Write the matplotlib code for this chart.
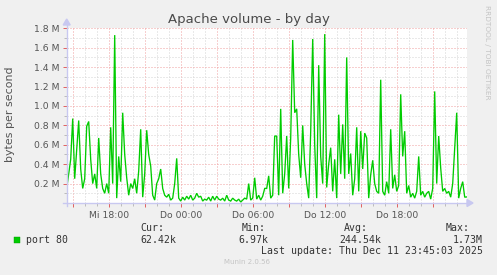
import numpy as np
import matplotlib
matplotlib.use('Agg')
import matplotlib.pyplot as plt
from matplotlib.patches import Rectangle, Polygon
from matplotlib.lines import Line2D

# port 80 traffic in MB/s, one sample every 10 minutes from Wed 14:30
port80 = [
    0.15, 0.30, 0.45, 0.87, 0.25, 0.55, 0.85, 0.35, 0.15, 0.25, 0.79, 0.84, 0.45,
    0.20, 0.30, 0.15, 0.67, 0.30, 0.15, 0.10, 0.20, 0.10, 0.78, 0.20, 1.73,
    0.05, 0.48, 0.22, 0.93, 0.50, 0.26, 0.08, 0.20, 0.15, 0.25, 0.10, 0.33, 0.76,
    0.06, 0.30, 0.75, 0.50, 0.38, 0.08, 0.03, 0.20, 0.25, 0.35, 0.15, 0.08,
    0.06, 0.09, 0.03, 0.05, 0.20, 0.46, 0.05, 0.02, 0.06, 0.03, 0.07, 0.04, 0.08,
    0.03, 0.05, 0.10, 0.06, 0.07, 0.02, 0.04, 0.03, 0.06, 0.02, 0.07, 0.03,
    0.07, 0.04, 0.03, 0.05, 0.02, 0.08, 0.03, 0.02, 0.05, 0.03, 0.02, 0.04, 0.01,
    0.03, 0.05, 0.04, 0.20, 0.03, 0.05, 0.26, 0.04, 0.08, 0.03, 0.07, 0.15,
    0.15, 0.28, 0.05, 0.08, 0.69, 0.69, 0.08, 0.97, 0.10, 0.30, 0.69, 0.15, 0.67,
    1.68, 0.93, 0.97, 0.50, 0.26, 0.80, 0.40, 0.20, 0.05, 0.74, 1.69, 0.60,
    0.05, 1.42, 0.48, 0.20, 1.74, 0.16, 0.40, 0.57, 0.12, 0.45, 0.05, 0.91, 0.30,
    0.81, 0.25, 1.50, 0.30, 0.51, 0.08, 0.25, 0.78, 0.12, 0.74, 0.35, 0.72,
    0.67, 0.05, 0.29, 0.44, 0.20, 0.12, 0.10, 1.27, 0.12, 0.08, 0.22, 0.10, 0.76,
    0.15, 0.29, 0.12, 0.18, 1.12, 0.48, 0.74, 0.10, 0.18, 0.06, 0.10, 0.05,
    0.12, 0.48, 0.08, 0.12, 0.06, 0.10, 0.12, 0.04, 0.15, 1.15, 0.20, 0.69, 0.36,
    0.12, 0.15, 0.10, 0.12, 0.06, 0.20, 0.57, 0.93, 0.05, 0.15, 0.22, 0.06,
    0.0624,
]
tick_hours = [18, 24, 30, 36, 42]
tick_labels = ['Mi 18:00', 'Do 00:00', 'Do 06:00', 'Do 12:00', 'Do 18:00']
legend_stats = {'Cur:': '62.42k', 'Min:': '6.97k', 'Avg:': '244.54k', 'Max:': '1.73M'}

W, H = 497, 275
BG = '#F0F0F0'
GREEN = '#00CC00'
MAJOR = '#F0A0A0'
MINOR = '#D4D4D4'
AXIS = '#C8C8F0'
TXT = '#555555'


def fx(x):
    return x / W


def fy(y):
    return 1 - y / H


fig = plt.figure(figsize=(W / 100, H / 100), dpi=100, facecolor=BG)
left, right, top, bottom = 66.7, 466.7, 28.3, 203.0
ax = fig.add_axes([fx(left), fy(bottom), (right - left) / W, (bottom - top) / H])
ax.set_facecolor('white')

t0 = 14.5
hours = t0 + np.arange(len(port80)) / 6.0
ax.plot(hours, np.array(port80) * 1e6, color=GREEN, lw=0.95, solid_joinstyle='miter')

ax.set_xlim(t0, t0 + 200 / 6.0)
ax.set_ylim(0, 1.8e6)

# munin style dotted grid: red every 3h / 0.2M, grey every hour / 0.1M
dot = (0, (1, 2))
for h in np.arange(15, 48):
    major = (h % 3 == 0)
    ax.axvline(h, color=MAJOR if major else MINOR, lw=0.72, ls=dot, zorder=0)
for v in np.arange(1, 19):
    major = (v % 2 == 0)
    ax.axhline(v * 1e5, color=MAJOR if major else MINOR, lw=0.72, ls=dot, zorder=0)

ax.set_xticks(np.arange(15, 48, 3))
ax.set_xticklabels([tick_labels[tick_hours.index(h)] if h in tick_hours else '' for h in range(15, 48, 3)])
ax.set_xticks(np.arange(15, 48), minor=True)
ax.set_yticks(np.arange(2e5, 1.81e6, 2e5))
ax.set_yticklabels(['%.1f M' % (v / 1e6) for v in np.arange(2e5, 1.81e6, 2e5)])
ax.set_yticks(np.arange(1e5, 1.81e6, 1e5), minor=True)
ax.tick_params(which='major', length=3, width=0.7, color='#E06060', labelsize=6.7,
               labelcolor=TXT, pad=2)
ax.tick_params(which='minor', length=2, width=0.7, color='#BBBBBB')
ax.tick_params(axis='x', pad=3)

for s in ax.spines.values():
    s.set_visible(False)

# axis lines with arrows
fig.add_artist(Line2D([fx(63), fx(468)], [fy(bottom), fy(bottom)], color=AXIS, lw=1))
fig.add_artist(Line2D([fx(left), fx(left)], [fy(206), fy(24)], color=AXIS, lw=1))
fig.add_artist(Polygon([[fx(467), fy(199.5)], [fx(473), fy(bottom)], [fx(467), fy(206.5)]],
                       closed=True, color=AXIS))
fig.add_artist(Polygon([[fx(63.2), fy(25)], [fx(left), fy(19)], [fx(70.2), fy(25)]],
                       closed=True, color=AXIS))

fig.text(fx(248.5), fy(19), 'Apache volume - by day', ha='center', va='center',
         fontsize=9.5, color='#4A4A4A')
fig.text(fx(10.5), fy(114.5), 'bytes per second', rotation=90, ha='center', va='center',
         fontsize=7.9, color=TXT)
fig.text(fx(487.5), fy(5), 'RRDTOOL / TOBI OETIKER', rotation=270, ha='center', va='top',
         fontsize=5.3, color='#C4C4C4')

mono = dict(family='DejaVu Sans Mono', fontsize=7.1, color='#333333', va='center')
fig.add_artist(Rectangle((fx(14), fy(242.5)), 6 / W, 6 / H, facecolor=GREEN,
                         edgecolor='#009900', lw=0.3))
fig.text(fx(26), fy(240), 'port 80', ha='left', **mono)
cols = [(140, 'left'), (266, 'right'), (368, 'right'), (470, 'right')]
vals_x = [(140, 'left'), (268, 'right'), (381, 'right'), (483, 'right')]
for (k, v), (cx, ca), (vx, vxa) in zip(legend_stats.items(), cols, vals_x):
    fig.text(fx(cx), fy(228), k, ha=ca, **mono)
    fig.text(fx(vx), fy(240), v, ha=vxa, **mono)
fig.text(fx(483), fy(251.5), 'Last update: Thu Dec 11 23:45:03 2025', ha='right', **mono)
fig.text(fx(247.5), fy(262.5), 'Munin 2.0.56', ha='center', va='center', fontsize=5,
         color='#C4C4C4')

fig.savefig('out.png', dpi=100, facecolor=BG)
